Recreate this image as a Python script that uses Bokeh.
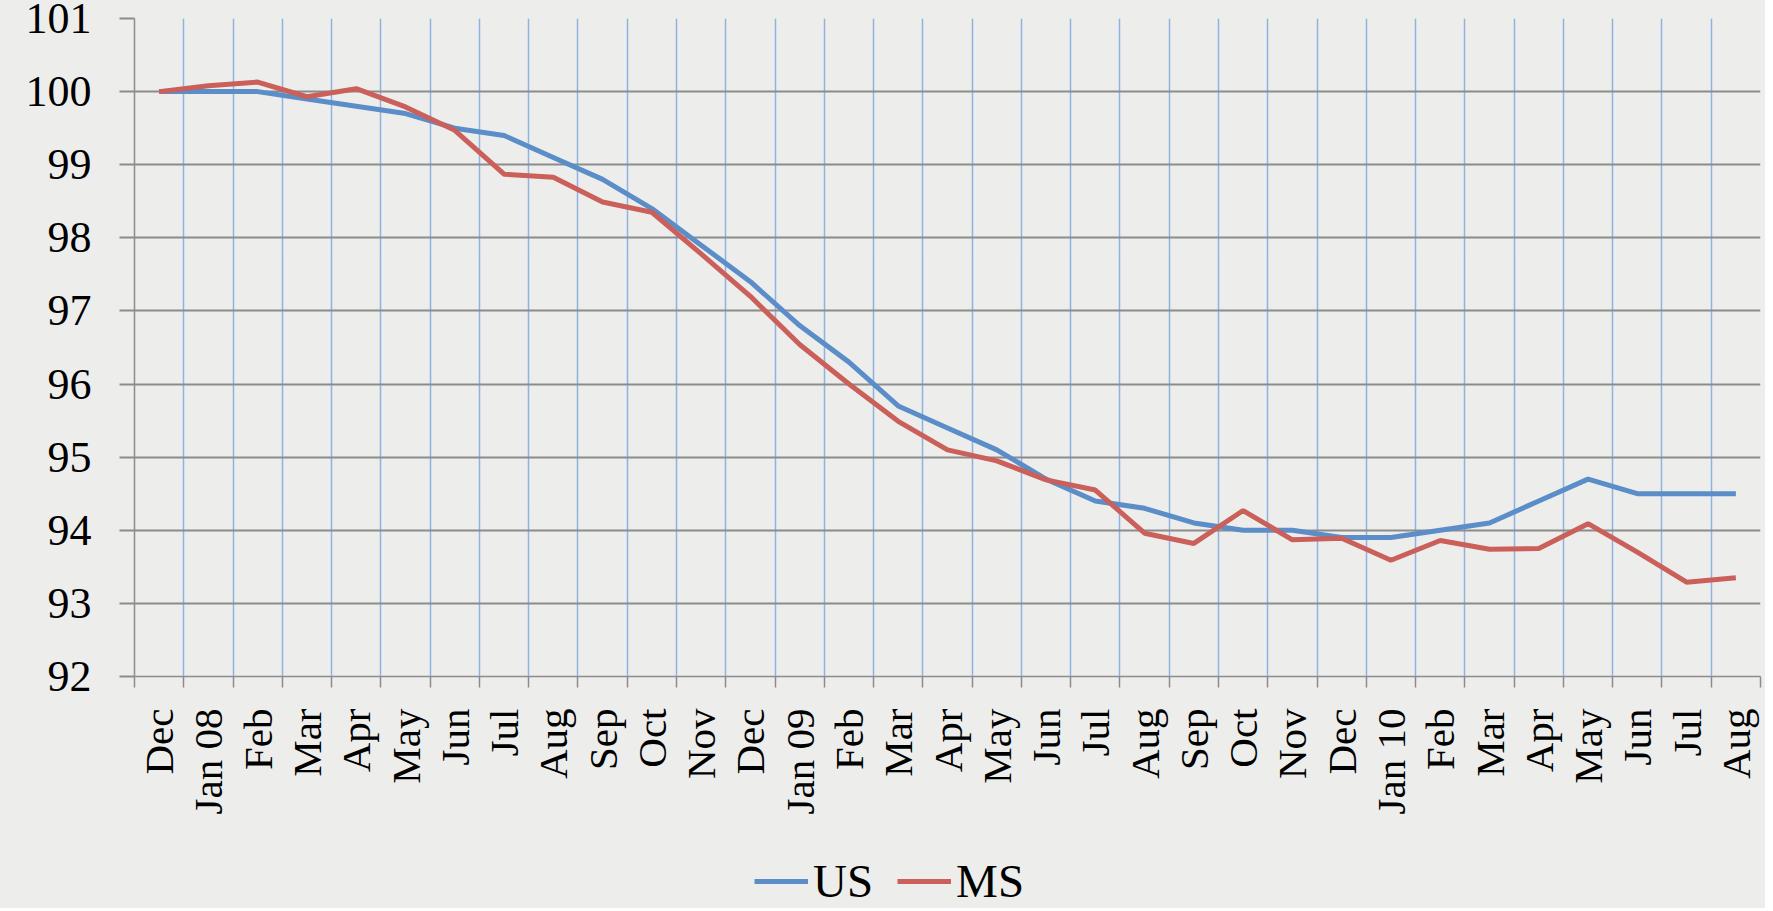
import math
from bokeh.plotting import figure
from bokeh.layouts import column
from bokeh.models import (FixedTicker, Legend, LegendItem, Range1d)
from bokeh.embed import file_html
from bokeh.resources import INLINE

categories = ["Dec", "Jan 08", "Feb", "Mar", "Apr", "May", "Jun", "Jul", "Aug", "Sep",
              "Oct", "Nov", "Dec", "Jan 09", "Feb", "Mar", "Apr", "May", "Jun", "Jul",
              "Aug", "Sep", "Oct", "Nov", "Dec", "Jan 10", "Feb", "Mar", "Apr", "May",
              "Jun", "Jul", "Aug"]
us = [100.0, 100.0, 100.0, 99.9, 99.8, 99.7, 99.5, 99.4, 99.1, 98.8,
      98.4, 97.9, 97.4, 96.8, 96.3, 95.7, 95.4, 95.1, 94.7, 94.4,
      94.3, 94.1, 94.0, 94.0, 93.9, 93.9, 94.0, 94.1, 94.4, 94.7,
      94.5, 94.5, 94.5]
ms = [100.0, 100.08, 100.13, 99.93, 100.04, 99.79, 99.47, 98.87, 98.83, 98.49,
      98.35, 97.78, 97.2, 96.54, 96.0, 95.49, 95.1, 94.95, 94.69, 94.55,
      93.96, 93.82, 94.27, 93.87, 93.89, 93.59, 93.86, 93.74, 93.75, 94.09,
      93.70, 93.29, 93.35]
series_names = ["US", "MS"]
y_ticks = [92, 93, 94, 95, 96, 97, 98, 99, 100, 101]

BG = "#EDEDEB"
FONT = "Liberation Serif"
US_COLOR = "#5B8DC8"
MS_COLOR = "#CB5F5A"

x = [i + 0.5 for i in range(len(categories))]

p = figure(width=1765, height=842, output_backend="svg", toolbar_location=None,
           x_range=Range1d(0, len(categories)), y_range=Range1d(92, 101),
           min_border_left=134, min_border_right=5, min_border_top=18,
           min_border_bottom=166)
p.background_fill_color = BG
p.border_fill_color = BG
p.outline_line_color = None

p.line(x, us, line_color=US_COLOR, line_width=5)
p.line(x, ms, line_color=MS_COLOR, line_width=5)

# x axis
xt = FixedTicker(ticks=x, minor_ticks=list(range(0, len(categories) + 1)))
p.xaxis.ticker = xt
p.xaxis.major_label_overrides = {v: c for v, c in zip(x, categories)}
p.xaxis.major_label_orientation = math.pi / 2
p.xaxis.major_tick_line_color = None
p.xaxis.major_tick_out = 0
p.xaxis.major_tick_in = 0
p.xaxis.minor_tick_line_color = "#8C8C8C"
p.xaxis.minor_tick_line_width = 1.5
p.xaxis.minor_tick_out = 11
p.xaxis.minor_tick_in = 0
p.xaxis.axis_line_color = "#8C8C8C"
p.xaxis.axis_line_width = 1.5
p.xaxis.major_label_standoff = 21
p.xaxis.major_label_text_font = FONT
p.xaxis.major_label_text_font_size = "41px"
p.xaxis.major_label_text_color = "black"

p.xgrid.grid_line_color = None
p.xgrid.minor_grid_line_color = "#8DB3E2"
p.xgrid.minor_grid_line_width = 1.5

# y axis
p.yaxis.ticker = FixedTicker(ticks=y_ticks)
p.yaxis.major_tick_line_color = "#8C8C8C"
p.yaxis.major_tick_line_width = 2
p.yaxis.major_tick_out = 15
p.yaxis.major_tick_in = 0
p.yaxis.minor_tick_line_color = None
p.yaxis.axis_line_color = "#8C8C8C"
p.yaxis.axis_line_width = 1.5
p.yaxis.major_label_standoff = 28
p.yaxis.major_label_text_font = FONT
p.yaxis.major_label_text_font_size = "44px"
p.yaxis.major_label_text_color = "black"

p.ygrid.grid_line_color = "#8C8C8C"
p.ygrid.grid_line_width = 2

# legend strip below the chart (series drawn out of its visible range,
# only their legend entries show)
p2 = figure(width=1765, height=66, output_backend="svg", toolbar_location=None,
            x_range=Range1d(0, len(categories)), y_range=Range1d(200, 201),
            x_axis_type=None, y_axis_type=None,
            min_border_left=0, min_border_right=0, min_border_top=0,
            min_border_bottom=0)
p2.background_fill_color = BG
p2.border_fill_color = BG
p2.outline_line_color = None
p2.grid.visible = False
l_us = p2.line(x, us, line_color=US_COLOR, line_width=5)
l_ms = p2.line(x, ms, line_color=MS_COLOR, line_width=5)

legend = Legend(items=[LegendItem(label=series_names[0], renderers=[l_us]),
                       LegendItem(label=series_names[1], renderers=[l_ms])],
                orientation="horizontal", location=(620, 0))
legend.label_text_font = FONT
legend.label_text_font_size = "47px"
legend.label_text_color = "black"
legend.glyph_width = 54
legend.glyph_height = 40
legend.label_standoff = 5
legend.spacing = 24
legend.padding = 0
legend.margin = 0
legend.border_line_color = None
legend.background_fill_alpha = 0
p2.add_layout(legend, "center")

layout = column(p, p2, spacing=0)
layout.styles = {"background-color": BG}

open("out.html", "w").write(file_html(layout, INLINE))
